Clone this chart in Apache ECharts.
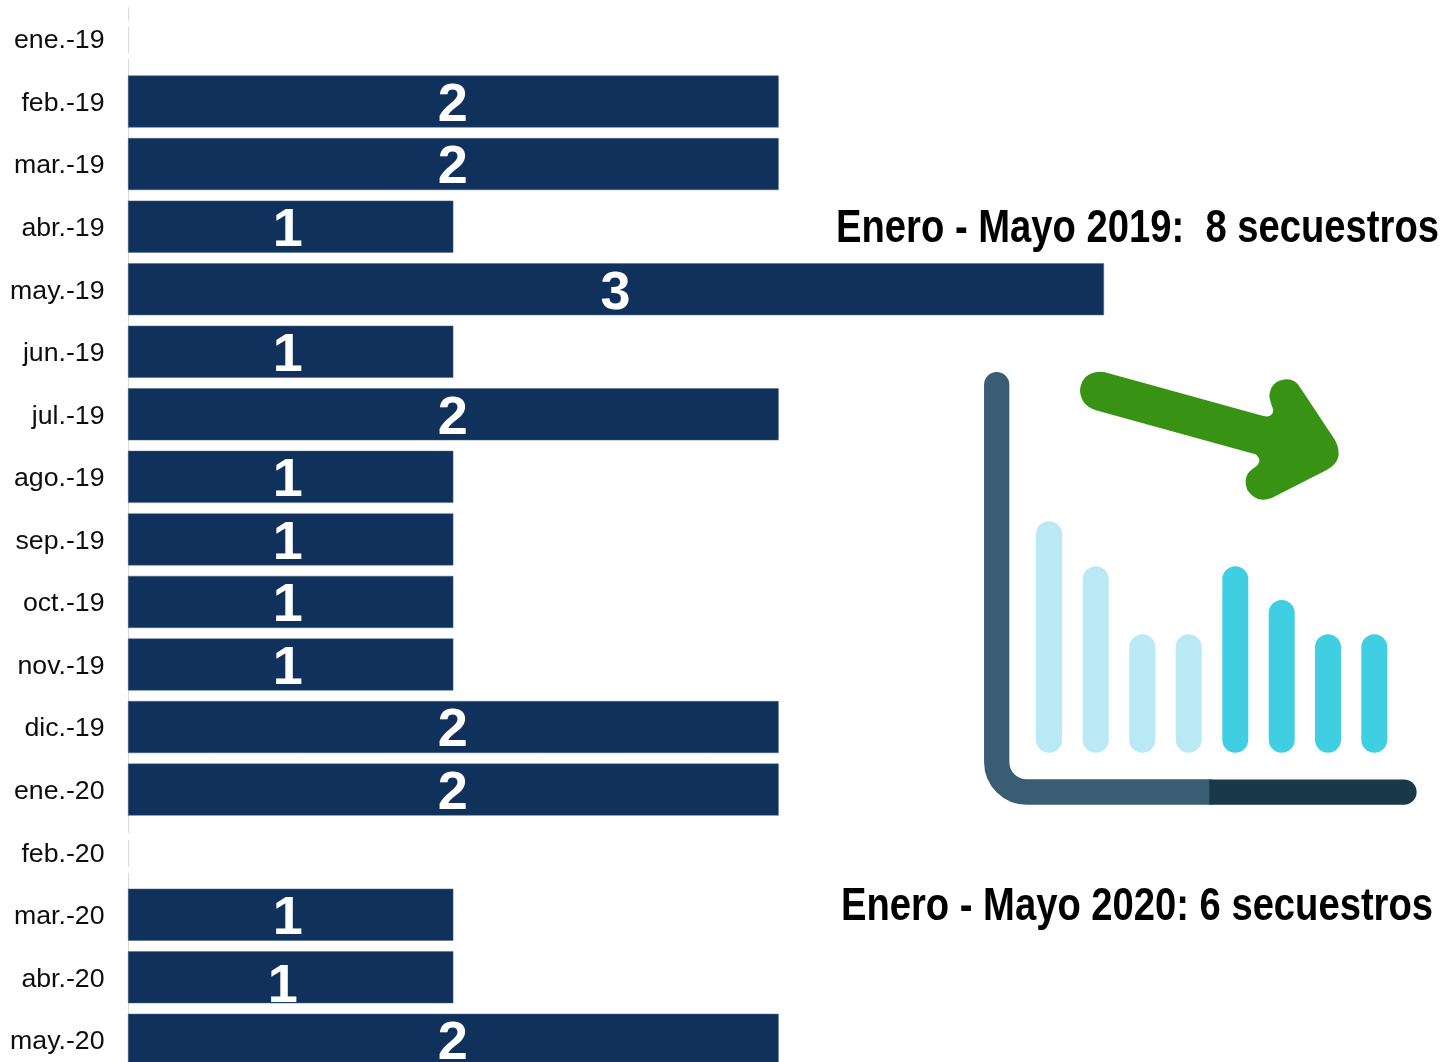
<!DOCTYPE html>
<html><head><meta charset="utf-8">
<style>html,body{margin:0;padding:0;background:#fff;overflow:hidden}#w{width:1444px;height:1062px;overflow:hidden}#c{width:1444px;height:1080px}</style>
<script src="https://cdn.jsdelivr.net/npm/echarts@6/dist/echarts.min.js"></script>
</head><body><div id="w"><div id="c"></div></div>
<script>
const months = ['ene.-19','feb.-19','mar.-19','abr.-19','may.-19','jun.-19','jul.-19','ago.-19','sep.-19','oct.-19','nov.-19','dic.-19','ene.-20','feb.-20','mar.-20','abr.-20','may.-20'];
const secuestros = [null,2,2,1,3,1,2,1,1,1,1,2,2,null,1,1,2];
const note2019 = 'Enero - Mayo 2019:  8 secuestros';
const note2020 = 'Enero - Mayo 2020: 6 secuestros';
const iconLight = [[1036,521.3],[1082.7,566.3],[1129.3,634.3],[1175.7,634.3]];
const iconCyan = [[1222.3,566.3],[1268.7,600],[1315,634.3],[1361.3,634.3]];

const chart = echarts.init(document.getElementById('c'), null, {renderer:'canvas'});
const FONT = '"Liberation Sans", Arial, sans-serif';
const NOTE_FONT = 'bold 46px "Liberation Sans", Arial, sans-serif';
const mctx = document.createElement('canvas').getContext('2d');
mctx.font = NOTE_FONT;
const squeeze = (text, width) => width / mctx.measureText(text).width;
const iconBar = (color) => ([x,y]) => ({type:'rect', shape:{x, y, width:26, height:752.7-y, r:13}, style:{fill:color}});
const gap = (y,h) => ({type:'rect', shape:{x:125,y,width:5,height:h}, style:{fill:'#fff'}, z:1});
const note = (text, x, y, w) => ({type:'text', x, y, scaleX:squeeze(text,w), z:6,
  style:{text, font:NOTE_FONT, fill:'#000', textVerticalAlign:'middle'}});
const labelOffset = (v,i) => months[i]==='abr.-20' ? [-8,10] : v===1 ? [-3,4.5] : [-0.5,4.5];
chart.setOption({
  animation:false,
  backgroundColor:'#fff',
  grid:{left:128, top:7.7, width:1301.3, height:1063.4, containLabel:false},
  xAxis:{type:'value', min:0, max:4, show:false, splitLine:{show:false}},
  yAxis:{type:'category', inverse:true, data:months,
    axisTick:{show:false},
    axisLine:{show:true, lineStyle:{color:'#d9d9d9', width:1}},
    axisLabel:{interval:0, margin:23.5, fontSize:26.7, fontFamily:FONT, color:'#0d0d0d', verticalAlign:'top', lineHeight:4}},
  series:[{type:'bar', barWidth:52, z:3,
    data:secuestros.map((v,i)=>({value:v, label:{offset:labelOffset(v,i)}})),
    itemStyle:{color:'#0F315B', borderColor:'#4a6788', borderWidth:0.5},
    label:{show:true, position:'inside', color:'#fff', fontFamily:FONT, fontWeight:'bold', fontSize:54}
  },{
    type:'custom', coordinateSystem:'none', silent:true, z:5, data:[0],
    renderItem:()=>({type:'group', children:[
      {type:'path', shape:{pathData:'M996.7,384.7 V762 A30,30 0 0 0 1026.7,792 H1209.3'}, style:{fill:'none', stroke:'#395E73', lineWidth:25.3, lineCap:'round'}},
      {type:'path', shape:{pathData:'M1209.3,779.4 H1404 A12.65,12.65 0 0 1 1404,804.7 H1209.3 Z'}, style:{fill:'#193849'}},
      ...iconLight.map(iconBar('#B8E9F5')),
      ...iconCyan.map(iconBar('#40CFE2')),
      {type:'group', x:1060, y:360, scaleX:1/3, scaleY:1/3, children:[
        {type:'path', shape:{pathData:'M135 37 L610 168 Q638 174 640 150 Q632 130 628 110 Q630 62 680 58 Q708 58 722 85 L825 240 Q856 300 800 330 L635 414 Q590 432 562 390 Q545 345 585 322 Q605 308 595 292 Q590 282 575 280 L105 150 Q62 135 60 90 Q65 38 120 35 Z'}, style:{fill:'#389315'}}
      ]}
    ]})
  }],
  graphic:[
    gap(20.7,6), gap(53,6), gap(833,7), gap(867,6),
    note(note2019, 836, 229, 603),
    note(note2020, 841, 907, 592)
  ]
});
</script></body></html>
